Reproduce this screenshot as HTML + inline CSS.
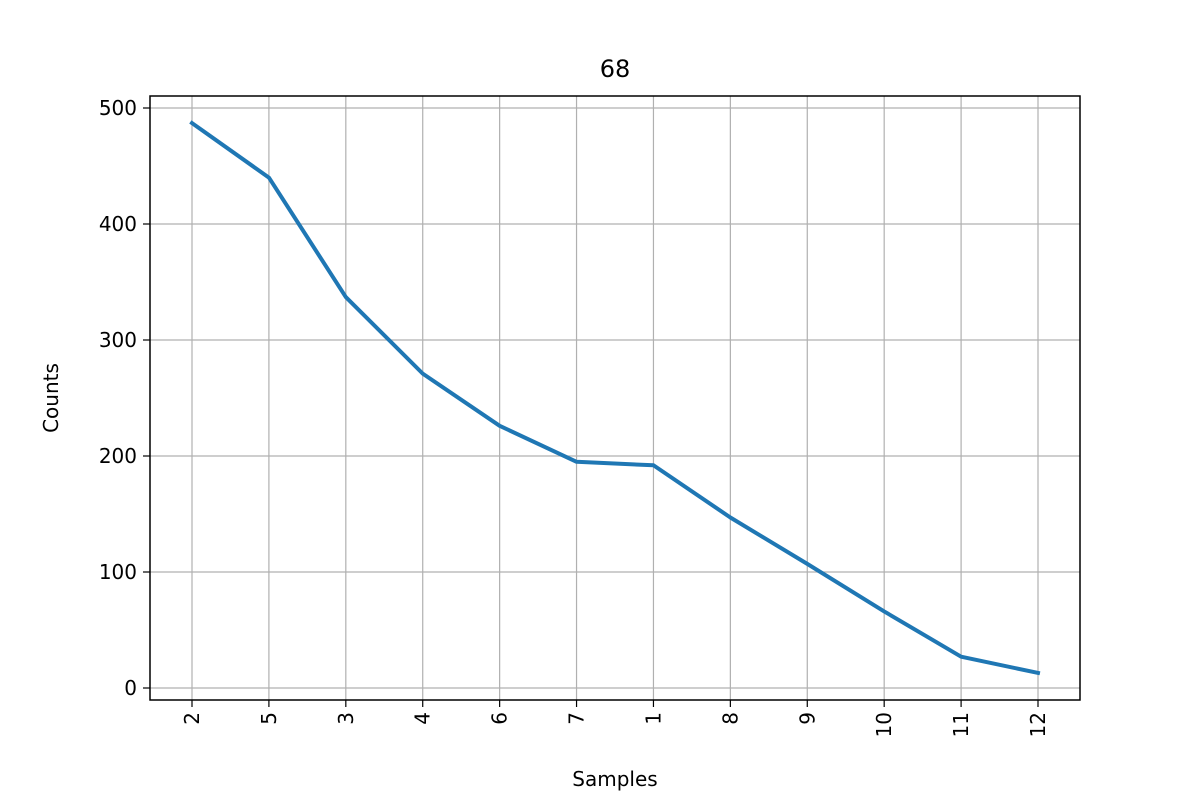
<!DOCTYPE html>
<html><head><meta charset="utf-8"><style>
body{margin:0;background:#fff;}
svg{display:block;font-family:"DejaVu Sans","Liberation Sans",sans-serif;}
</style></head><body>
<svg id="chart" width="1200" height="800">
<text x="615" y="77" font-size="24" text-anchor="middle">68</text>
<text x="615" y="786" font-size="20" text-anchor="middle">Samples</text>
<text x="58" y="398" font-size="20" text-anchor="middle" transform="rotate(-90 58 398)">Counts</text>
<g id="grid"></g><g id="ticks"></g><g id="series"></g>
<rect x="150" y="96" width="930" height="604" fill="none" stroke="#000" stroke-width="1.5"/>
</svg>
<script>
const categories=["2","5","3","4","6","7","1","8","9","10","11","12"];
const counts=[487,440,337,271,226,195,192,147,107,66,27,13];
const yTicks=[0,100,200,300,400,500];
const NS="http://www.w3.org/2000/svg";
const xPos=i=>192+i*(1038-192)/(categories.length-1);
const yPos=v=>688-v*1.16;
function mk(tag,attrs,parent,text){const e=document.createElementNS(NS,tag);for(const k in attrs)e.setAttribute(k,attrs[k]);if(text!==undefined)e.textContent=text;parent.appendChild(e);return e;}
const grid=document.getElementById('grid'),ticks=document.getElementById('ticks'),series=document.getElementById('series');
categories.forEach((c,i)=>{const x=xPos(i);
 const g=mk('line',{x1:x,x2:x,y1:96,y2:700,stroke:'#b0b0b0','stroke-width':1.2},grid);
 
 
 mk('line',{x1:x,x2:x,y1:700,y2:707,stroke:'#000','stroke-width':1.2},ticks);
 const t=mk('text',{x:0,y:0,'font-size':20,'text-anchor':'end',transform:`translate(${x+7},712) rotate(-90)`},ticks,c);
 
 
});
yTicks.forEach(v=>{const y=yPos(v);
 const g=mk('line',{x1:150,x2:1080,y1:y,y2:y,stroke:'#b0b0b0','stroke-width':1.2},grid);
 
 
 mk('line',{x1:143,x2:150,y1:y,y2:y,stroke:'#000','stroke-width':1.2},ticks);
 const t=mk('text',{x:137,y:y+7,'font-size':20,'text-anchor':'end'},ticks,String(v));
 
 
});
const p=mk('polyline',{points:counts.map((v,i)=>xPos(i)+','+yPos(v)).join(' '),fill:'none',stroke:'#1f77b4','stroke-width':4,'stroke-linejoin':'round','stroke-linecap':'square'},series);


</script>
</body></html>
